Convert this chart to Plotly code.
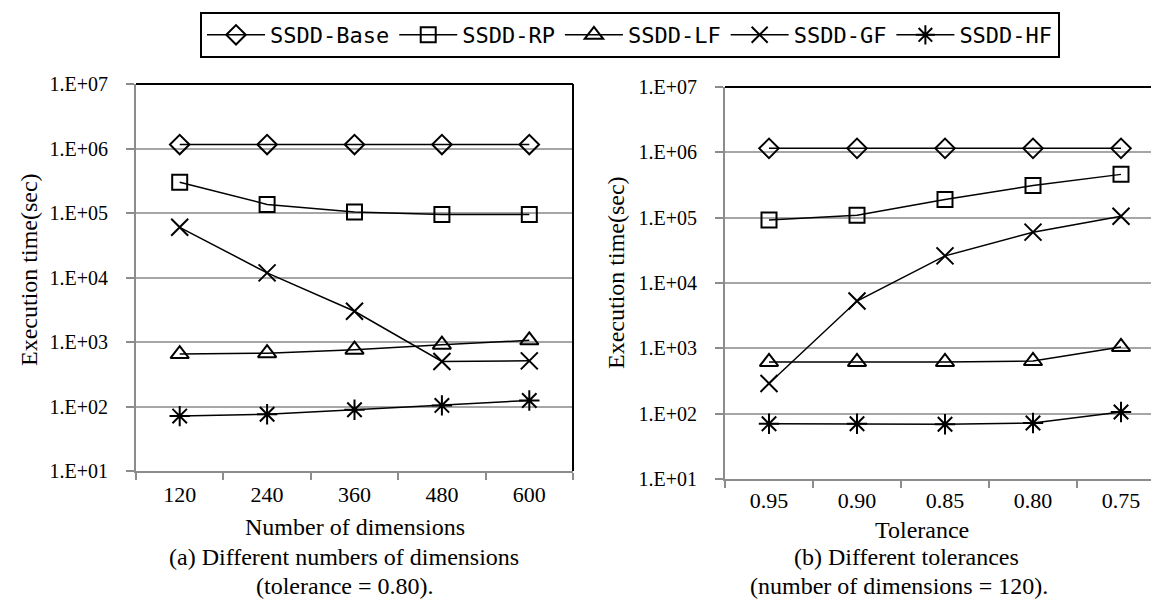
import plotly.graph_objects as go

# ---- data ----
dims = ["120", "240", "360", "480", "600"]
tols = ["0.95", "0.90", "0.85", "0.80", "0.75"]
series_names = ["SSDD-Base", "SSDD-RP", "SSDD-LF", "SSDD-GF", "SSDD-HF"]
y_ticks = [1e1, 1e2, 1e3, 1e4, 1e5, 1e6, 1e7]
y_tick_text = ["1.E+01", "1.E+02", "1.E+03", "1.E+04", "1.E+05", "1.E+06", "1.E+07"]

# (a) varying number of dimensions (tolerance = 0.80)
base_a = [1.15e6, 1.15e6, 1.15e6, 1.15e6, 1.15e6]
rp_a = [3.0e5, 1.36e5, 1.04e5, 9.5e4, 9.5e4]
lf_a = [6.5e2, 6.7e2, 7.6e2, 9.1e2, 1.06e3]
gf_a = [6.0e4, 1.18e4, 3.0e3, 5.0e2, 5.1e2]
hf_a = [71, 76, 89, 104, 124]

# (b) varying tolerance (number of dimensions = 120)
base_b = [1.15e6, 1.15e6, 1.15e6, 1.15e6, 1.15e6]
rp_b = [9.2e4, 1.09e5, 1.89e5, 3.1e5, 4.6e5]
lf_b = [6.2e2, 6.2e2, 6.2e2, 6.4e2, 1.05e3]
gf_b = [2.9e2, 5.3e3, 2.6e4, 6.0e4, 1.05e5]
hf_b = [70, 70, 69, 72, 106]

series_a = [base_a, rp_a, lf_a, gf_a, hf_a]
series_b = [base_b, rp_b, lf_b, gf_b, hf_b]

symbols = ["diamond-open", "square-open", "triangle-up-open", "x-thin-open", "asterisk-open"]
sizes = [15, 15, 16, 17, 17]

W, H = 1159, 616
SERIF = "Liberation Serif"
MONO = "DejaVu Sans Mono"

fig = go.Figure()
for i, name in enumerate(series_names):
    mk = dict(symbol=symbols[i], size=sizes[i], color="black",
              line=dict(color="black", width=2))
    fig.add_trace(go.Scatter(x=dims, y=series_a[i], name=name, mode="lines+markers",
                             line=dict(color="black", width=1.5), marker=mk,
                             xaxis="x", yaxis="y", legendgroup=name, showlegend=True))
    fig.add_trace(go.Scatter(x=tols, y=series_b[i], name=name, mode="lines+markers",
                             line=dict(color="black", width=1.5), marker=mk,
                             xaxis="x2", yaxis="y2", legendgroup=name, showlegend=False))

def px(v):
    return v / W

def py(v):
    return 1 - v / H

grid = "#a6a6a6"
axis_common_y = dict(type="log", range=[1, 7], tickvals=y_ticks, ticktext=y_tick_text,
                     showgrid=True, gridcolor=grid, gridwidth=1.5,
                     showline=True, linecolor="#8c8c8c", linewidth=2,
                     ticks="outside", ticklen=8, tickcolor="#8c8c8c", tickwidth=1.5,
                     tickfont=dict(family=SERIF, size=20, color="black"),
                     ticklabelstandoff=14, zeroline=False, automargin=False)
axis_common_x = dict(type="category", showgrid=False, showline=True,
                     linecolor="#8c8c8c", linewidth=2, ticks="outside", ticklen=7,
                     tickcolor="#8c8c8c", tickwidth=1.5, tickson="boundaries",
                     tickfont=dict(family=SERIF, size=22, color="black"),
                     range=[-0.5, 4.5], automargin=False)

fig.update_layout(
    width=W, height=H,
    margin=dict(l=0, r=0, t=0, b=0),
    paper_bgcolor="white", plot_bgcolor="white",
    xaxis=dict(domain=[px(128), px(565)], anchor="y", ticklabelstandoff=3, **axis_common_x),
    yaxis=dict(domain=[py(463), py(76)], anchor="x", **axis_common_y),
    xaxis2=dict(domain=[px(717), px(1157)], anchor="y2", ticklabelstandoff=1, **axis_common_x),
    yaxis2=dict(domain=[py(471), py(79)], anchor="x2", **axis_common_y),
    legend=dict(orientation="h", x=px(192), xanchor="left", y=py(4), yanchor="top",
                bordercolor="black", borderwidth=2, bgcolor="white",
                font=dict(family=MONO, size=22, color="black"), itemwidth=58,
                traceorder="normal"),
    showlegend=True,
)

# black frame on top/right of each plot area
for xr, yr in [("x domain", "y domain"), ("x2 domain", "y2 domain")]:
    fig.add_shape(type="line", xref=xr, yref=yr, x0=0, x1=1, y0=1, y1=1,
                  line=dict(color="black", width=2))
    fig.add_shape(type="line", xref=xr, yref=yr, x0=1, x1=1, y0=0, y1=1,
                  line=dict(color="black", width=2))

def ann(text, x, y, size, angle=0):
    fig.add_annotation(text=text, x=px(x), y=py(y), xref="paper", yref="paper",
                       showarrow=False, xanchor="center", yanchor="middle",
                       textangle=angle, font=dict(family=SERIF, size=size, color="black"))

ann("Execution time(sec)", 21, 262, 24, -90)
ann("Execution time(sec)", 608, 265, 24, -90)
ann("Number of dimensions", 347, 519, 24)
ann("Tolerance", 914, 522, 24)
ann("(a) Different numbers of dimensions", 336, 549, 24)
ann("(tolerance = 0.80).", 336, 578, 24)
ann("(b) Different tolerances", 898, 549, 24)
ann("(number of dimensions = 120).", 891, 578, 24)

fig.write_html("out.html")
